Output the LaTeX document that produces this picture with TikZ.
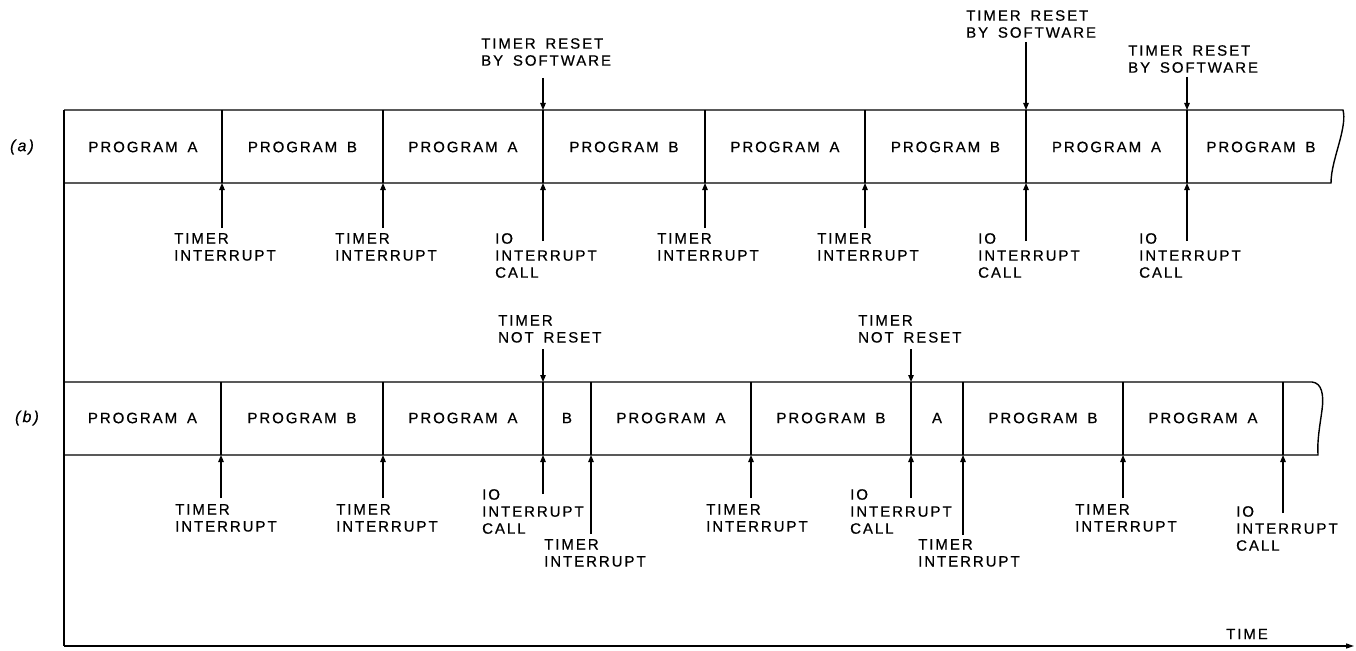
\documentclass[tikz,border=0pt]{standalone}
\usepackage{fontspec}
\newfontfamily\lblfont[LetterSpace=13,WordSpace=1.6,FakeBold=0.6]{Liberation Sans}
\usetikzlibrary{arrows.meta}

\begin{document}
\begin{tikzpicture}[x=1pt,y=-1pt,
  every node/.style={font=\lblfont\fontsize{15}{17}\selectfont},
  prog/.style={inner sep=0pt},
  note/.style={anchor=north west,align=left,inner sep=0pt},
  tag/.style={font=\lblfont\itshape\fontsize{16}{17}\selectfont},
  bar/.style={line width=1.4pt},
  arr/.style={-{Triangle[length=7pt,width=5.5pt]},line width=1.1pt}]
\useasboundingbox (0,0) rectangle (1356,650);

% (a): timer reset by software
\node[tag] (ta) at (22,147) {(a)};
\coordinate (a0) at (64,110);
\draw[bar] (a0) -- (1343,110) .. controls (1345,118) and (1343,128) .. (1340,140)
  .. controls (1336,155) and (1331,170) .. (1331,183) -- (64,183);
\foreach \l/\r/\t [count=\i] in {64/222/A,222/383/B,383/543/A,543/705/B,705/865/A,865/1026/B,1026/1187/A,1187/1335/B}
  \node[prog] (pa\i) at ({(\l+\r)/2},147) {PROGRAM \t};
\foreach \x [count=\i] in {222,383,543,705,865,1026,1187} {
  \draw[bar] (\x,110) -- (\x,183);
  \coordinate (ua\i) at (\x,110);
  \coordinate (da\i) at (\x,183);
}
\foreach \i/\x/\e/\t in {1/222/228/{TIMER\\INTERRUPT},2/383/228/{TIMER\\INTERRUPT},
    3/543/241/{IO\\INTERRUPT\\CALL},4/705/228/{TIMER\\INTERRUPT},5/865/228/{TIMER\\INTERRUPT},
    6/1026/241/{IO\\INTERRUPT\\CALL},7/1187/241/{IO\\INTERRUPT\\CALL}} {
  \node[note] (la\i) at (\x-48,233) {\t};
  \coordinate (ea\i) at (\x,\e);
  \draw[arr] (ea\i) -- (da\i);
}
\node[note] (ra3) at (481,38) {TIMER RESET\\BY SOFTWARE};
\node[note] (ra6) at (966,10) {TIMER RESET\\BY SOFTWARE};
\node[note] (ra7) at (1128,45) {TIMER RESET\\BY SOFTWARE};
\coordinate (sa3) at (543,78);
\coordinate (sa6) at (1026,42);
\coordinate (sa7) at (1187,77);
\draw[arr] (sa3) -- (ua3);
\draw[arr] (sa6) -- (ua6);
\draw[arr] (sa7) -- (ua7);

% (b): timer not reset
\node[tag] (tb) at (27,418) {(b)};
\draw[bar] (64,382) -- (1312,382) .. controls (1322,383) and (1324,395) .. (1322,410)
  .. controls (1320,425) and (1317,440) .. (1318,455) -- (64,455);
\foreach \l/\r/\t [count=\i] in {64/221/PROGRAM A,221/383/PROGRAM B,383/543/PROGRAM A,543/591/B,
    591/751/PROGRAM A,751/911/PROGRAM B,911/963/A,963/1123/PROGRAM B,1123/1283/PROGRAM A}
  \node[prog] (pb\i) at ({(\l+\r)/2},418) {\t};
\foreach \x [count=\i] in {221,383,543,591,751,911,963,1123,1283} {
  \draw[bar] (\x,382) -- (\x,455);
  \coordinate (ub\i) at (\x,382);
  \coordinate (db\i) at (\x,455);
}
\foreach \i/\x/\e/\lx/\ly/\t in {1/221/498/175/504/{TIMER\\INTERRUPT},2/383/498/336/504/{TIMER\\INTERRUPT},
    3/543/494/482/489/{IO\\INTERRUPT\\CALL},4/591/534/544/539/{TIMER\\INTERRUPT},
    5/751/498/706/504/{TIMER\\INTERRUPT},6/911/498/850/489/{IO\\INTERRUPT\\CALL},
    7/963/535/918/539/{TIMER\\INTERRUPT},8/1123/498/1075/504/{TIMER\\INTERRUPT},
    9/1283/513/1236/506/{IO\\INTERRUPT\\CALL}} {
  \node[note] (lb\i) at (\lx,\ly) {\t};
  \coordinate (eb\i) at (\x,\e);
  \draw[arr] (eb\i) -- (db\i);
}
\node[note] (rb3) at (498,315) {TIMER\\NOT RESET};
\node[note] (rb6) at (858,315) {TIMER\\NOT RESET};
\coordinate (sb3) at (543,349);
\coordinate (sb6) at (911,349);
\draw[arr] (sb3) -- (ub3);
\draw[arr] (sb6) -- (ub6);

% time axis
\coordinate (o) at (64,646);
\coordinate (tend) at (1354,646);
\draw[bar] (a0) -- (o);
\draw[bar,-{Triangle[length=8pt,width=5pt]}] (o) -- (tend);
\node (time) at (1247,634) {TIME};
\end{tikzpicture}
\end{document}
